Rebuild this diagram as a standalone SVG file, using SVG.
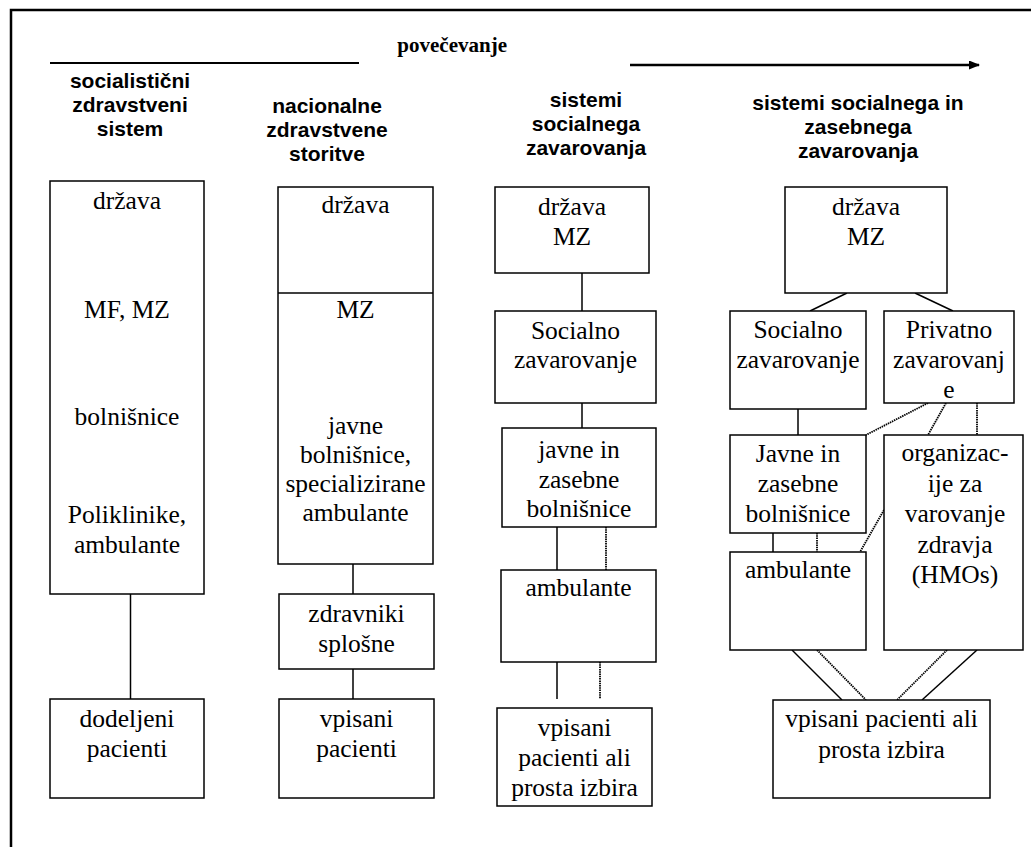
<svg xmlns="http://www.w3.org/2000/svg" width="1031" height="847" viewBox="0 0 1031 847">
<style>
.box{fill:#fff;stroke:#000;stroke-width:1.5}
.c{stroke:#000;stroke-width:1.5;fill:none}
.d{stroke:#000;stroke-width:1.8;fill:none;stroke-dasharray:1.5 0.8}
.t{font-family:"Liberation Serif","Times New Roman",serif;font-size:25.5px;text-anchor:middle;fill:#000}
.h{font-family:"Liberation Sans",Arial,sans-serif;font-weight:bold;font-size:21px;text-anchor:middle;fill:#000}
</style>
<defs>
<marker id="ah" markerWidth="11" markerHeight="9" refX="10" refY="4.5" orient="auto" markerUnits="userSpaceOnUse">
<path d="M0,0 L11,4.5 L0,9 Z" fill="#000"/>
</marker>
</defs>
<rect width="1031" height="847" fill="#fff"/>
<rect x="11" y="10" width="1100" height="900" fill="none" stroke="#000" stroke-width="2.5"/>

<g id="header">
<line x1="50" y1="63" x2="359" y2="63" stroke="#000" stroke-width="2"/>
<text x="507" y="52" text-anchor="end" font-family="Liberation Serif, serif" font-weight="bold" font-size="21px">povečevanje</text>
<line x1="630" y1="65" x2="979" y2="65" stroke="#000" stroke-width="2.5" marker-end="url(#ah)"/>
<text class="h" x="130"><tspan x="130" y="88">socialistični</tspan><tspan x="130" y="112">zdravstveni</tspan><tspan x="130" y="136">sistem</tspan></text>
<text class="h" x="327"><tspan x="327" y="113">nacionalne</tspan><tspan x="327" y="137">zdravstvene</tspan><tspan x="327" y="161">storitve</tspan></text>
<text class="h" x="586"><tspan x="586" y="107">sistemi</tspan><tspan x="586" y="131">socialnega</tspan><tspan x="586" y="155">zavarovanja</tspan></text>
<text class="h" x="858"><tspan x="858" y="110">sistemi socialnega in</tspan><tspan x="858" y="134">zasebnega</tspan><tspan x="858" y="158">zavarovanja</tspan></text>
</g>

<g id="connectors">
<line class="c" x1="130.5" y1="594" x2="130.5" y2="699"/>
<line class="c" x1="353" y1="564" x2="353" y2="594"/>
<line class="c" x1="353" y1="669" x2="353" y2="699"/>
<line class="c" x1="582" y1="273" x2="582" y2="311"/>
<line class="c" x1="582" y1="403" x2="582" y2="428"/>
<line class="c" x1="557" y1="527" x2="557" y2="570"/>
<line class="d" x1="606" y1="527" x2="606" y2="570"/>
<line class="c" x1="557" y1="662" x2="557" y2="699"/>
<line class="d" x1="600" y1="662" x2="600" y2="699"/>
<line class="c" x1="847" y1="293" x2="810" y2="311"/>
<line class="c" x1="915" y1="293" x2="953" y2="311"/>
<line class="c" x1="798" y1="409" x2="798" y2="435"/>
<line class="d" x1="928" y1="403" x2="866" y2="435"/>
<line class="d" x1="946" y1="403" x2="928" y2="435"/>
<line class="d" x1="977" y1="403" x2="977" y2="435"/>
<line class="c" x1="773" y1="533" x2="773" y2="552"/>
<line class="d" x1="817" y1="533" x2="817" y2="552"/>
<line class="d" x1="884" y1="510" x2="860" y2="552"/>
<line class="c" x1="792" y1="650" x2="842" y2="700"/>
<line class="d" x1="817" y1="650" x2="866" y2="700"/>
<line class="d" x1="947" y1="650" x2="897" y2="700"/>
<line class="c" x1="977" y1="650" x2="922" y2="700"/>
</g>

<g id="c1-main">
<rect class="box" x="50" y="181" width="154" height="413"/>
<text class="t" x="127" y="209">država</text>
<text class="t" x="127" y="318">MF, MZ</text>
<text class="t" x="127" y="425">bolnišnice</text>
<text class="t" x="127" y="523">Poliklinike,</text>
<text class="t" x="127" y="553">ambulante</text>
</g>
<g id="c1-patients">
<rect class="box" x="50" y="699" width="154" height="99"/>
<text class="t" x="127" y="727">dodeljeni</text>
<text class="t" x="127" y="757">pacienti</text>
</g>

<g id="c2-main">
<rect class="box" x="278" y="187" width="155" height="377"/>
<line class="c" x1="278" y1="293" x2="433" y2="293"/>
<text class="t" x="355.5" y="213">država</text>
<text class="t" x="355.5" y="318">MZ</text>
<text class="t" x="355.5" y="434">javne</text>
<text class="t" x="355.5" y="463">bolnišnice,</text>
<text class="t" x="355.5" y="492">specializirane</text>
<text class="t" x="355.5" y="521">ambulante</text>
</g>
<g id="c2-gp">
<rect class="box" x="279" y="594" width="155" height="75"/>
<text class="t" x="356.5" y="622">zdravniki</text>
<text class="t" x="356.5" y="652">splošne</text>
</g>
<g id="c2-patients">
<rect class="box" x="279" y="699" width="155" height="99"/>
<text class="t" x="356.5" y="727">vpisani</text>
<text class="t" x="356.5" y="757">pacienti</text>
</g>

<g id="c3-state">
<rect class="box" x="495" y="187" width="154" height="86"/>
<text class="t" x="572" y="215">država</text>
<text class="t" x="572" y="245">MZ</text>
</g>
<g id="c3-social">
<rect class="box" x="495" y="311" width="161" height="92"/>
<text class="t" x="575.5" y="339">Socialno</text>
<text class="t" x="575.5" y="368">zavarovanje</text>
</g>
<g id="c3-hospitals">
<rect class="box" x="502" y="428" width="154" height="99"/>
<text class="t" x="579" y="458">javne in</text>
<text class="t" x="579" y="488">zasebne</text>
<text class="t" x="579" y="517">bolnišnice</text>
</g>
<g id="c3-ambulante">
<rect class="box" x="501" y="570" width="155" height="92"/>
<text class="t" x="578.5" y="596">ambulante</text>
</g>
<g id="c3-patients">
<rect class="box" x="497" y="708" width="155" height="98"/>
<text class="t" x="574.5" y="736">vpisani</text>
<text class="t" x="574.5" y="766">pacienti ali</text>
<text class="t" x="574.5" y="796">prosta izbira</text>
</g>

<g id="c4-state">
<rect class="box" x="785" y="187" width="162" height="106"/>
<text class="t" x="866" y="215">država</text>
<text class="t" x="866" y="245">MZ</text>
</g>
<g id="c4-social">
<rect class="box" x="730" y="311" width="136" height="98"/>
<text class="t" x="798" y="338">Socialno</text>
<text class="t" x="798" y="368">zavarovanje</text>
</g>
<g id="c4-private">
<rect class="box" x="884" y="311" width="130" height="92"/>
<text class="t" x="949" y="338">Privatno</text>
<text class="t" x="949" y="368">zavarovanj</text>
<text class="t" x="949" y="398">e</text>
</g>
<g id="c4-hospitals">
<rect class="box" x="730" y="435" width="136" height="98"/>
<text class="t" x="798" y="462">Javne in</text>
<text class="t" x="798" y="492">zasebne</text>
<text class="t" x="798" y="522">bolnišnice</text>
</g>
<g id="c4-hmo">
<rect class="box" x="884" y="435" width="139" height="215"/>
<text class="t" x="955" y="461">organizac-</text>
<text class="t" x="955" y="491.5">ije za</text>
<text class="t" x="955" y="522">varovanje</text>
<text class="t" x="955" y="552.5">zdravja</text>
<text class="t" x="955" y="583">(HMOs)</text>
</g>
<g id="c4-ambulante">
<rect class="box" x="730" y="552" width="136" height="98"/>
<text class="t" x="798" y="578">ambulante</text>
</g>
<g id="c4-patients">
<rect class="box" x="773" y="700" width="217" height="98"/>
<text class="t" x="881.5" y="727">vpisani pacienti ali</text>
<text class="t" x="881.5" y="758">prosta izbira</text>
</g>
</svg>
